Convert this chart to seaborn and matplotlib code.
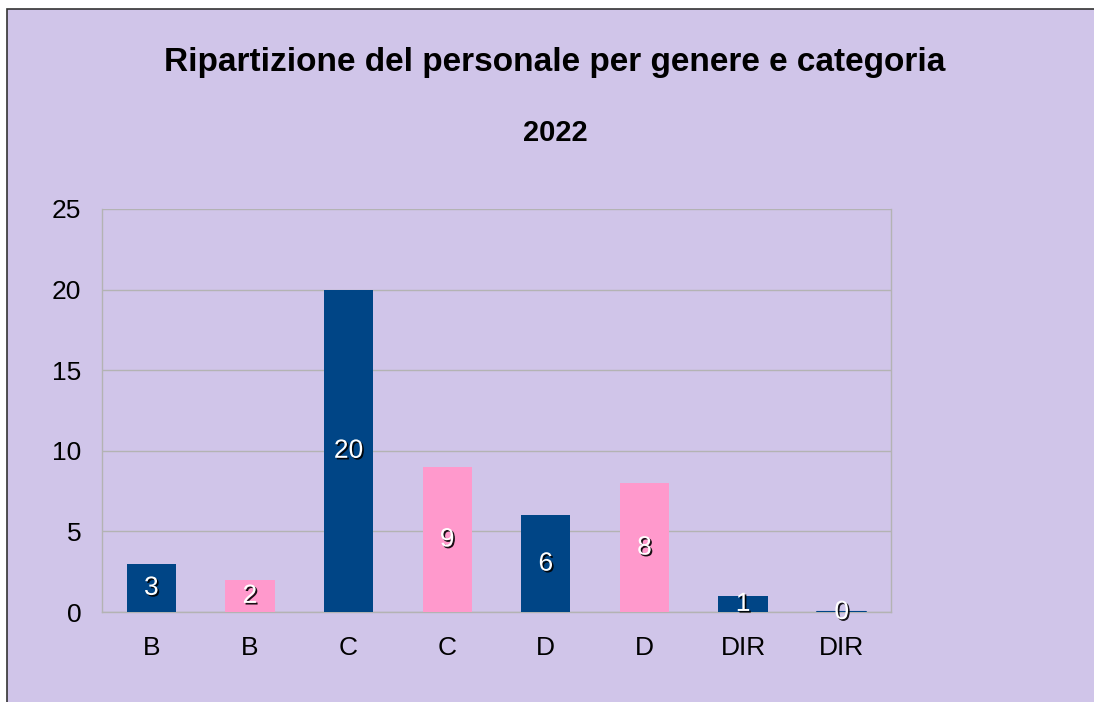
import matplotlib
matplotlib.use("Agg")
import matplotlib.pyplot as plt
import matplotlib.patheffects as pe
from matplotlib.patches import Rectangle
import seaborn as sns
import pandas as pd

categories = ["B", "B", "C", "C", "D", "D", "DIR", "DIR"]
genders = ["M", "F", "M", "F", "M", "F", "M", "F"]
values = [3, 2, 20, 9, 6, 8, 1, 0]
title = "Ripartizione del personale per genere e categoria"
subtitle = "2022"
yticks = [0, 5, 10, 15, 20, 25]

navy = "#004586"
pink = "#ff99cc"
lavender = "#d0c5e9"
grid = "#b3b3b3"

sns.set_theme(style="white")
plt.rcParams["font.family"] = ["Liberation Sans", "DejaVu Sans"]

fig = plt.figure(figsize=(10.94, 7.02), dpi=100)
fig.patch.set_facecolor("white")
fig.patches.append(Rectangle((7 / 1094, -0.01), 1.05, 1 - 9 / 702 + 0.01,
                             transform=fig.transFigure, facecolor=lavender,
                             edgecolor="#333333", linewidth=1.2, zorder=-10))

ax = fig.add_axes([102 / 1094, 1 - 612 / 702, (891 - 102) / 1094, (612 - 209) / 702])
ax.set_facecolor("none")

df = pd.DataFrame({"pos": list(range(len(values))), "val": values,
                   "gender": genders})
pal = {"M": navy, "F": pink}
sns.barplot(data=df, x="pos", y="val", hue="gender", palette=pal, width=0.5,
            dodge=False, legend=False, ax=ax, saturation=1, zorder=3,
            linewidth=0, edgecolor="none")

ax.set_xlim(-0.5, len(values) - 0.5)
ax.set_ylim(0, 25)
ax.set_yticks(yticks)
ax.set_xticks(range(len(values)))
ax.set_xticklabels(categories)
ax.set_xticks([i - 0.5 for i in range(len(values) + 1)], minor=True)
ax.tick_params(axis="x", which="major", length=0, labelsize=19, pad=17, colors="black")
ax.tick_params(axis="x", which="minor", length=10, width=1, color=grid, direction="out")
ax.tick_params(axis="y", length=12, width=1, color=grid, labelsize=19, pad=3, colors="black")
ax.set_xlabel("")
ax.set_ylabel("")
ax.yaxis.grid(True, color=grid, linewidth=1, zorder=0)
ax.set_axisbelow(True)
for s in ["left", "right", "bottom"]:
    ax.spines[s].set_visible(True)
    ax.spines[s].set_color(grid)
    ax.spines[s].set_linewidth(1)
ax.spines["top"].set_visible(False)

for i, v in enumerate(values):
    if v == 0:
        ax.plot([i - 0.25, i + 0.25], [0, 0], color=navy, linewidth=1.5, zorder=4)

for i, v in enumerate(values):
    t = ax.text(i, v / 2, str(v), ha="center", va="center", fontsize=19,
                color="white", zorder=6)
    t.set_path_effects([pe.SimplePatchShadow(offset=(1.2, -1.2), shadow_rgbFace="black", alpha=0.9),
                        pe.Normal()])

fig.text(555 / 1094, 1 - 62 / 702, title, ha="center", va="center",
         fontsize=24, fontweight="bold", color="black")
fig.text(555 / 1094, 1 - 133 / 702, subtitle, ha="center", va="center",
         fontsize=21, fontweight="bold", color="black")

fig.savefig("out.png", dpi=100, facecolor=fig.get_facecolor())
